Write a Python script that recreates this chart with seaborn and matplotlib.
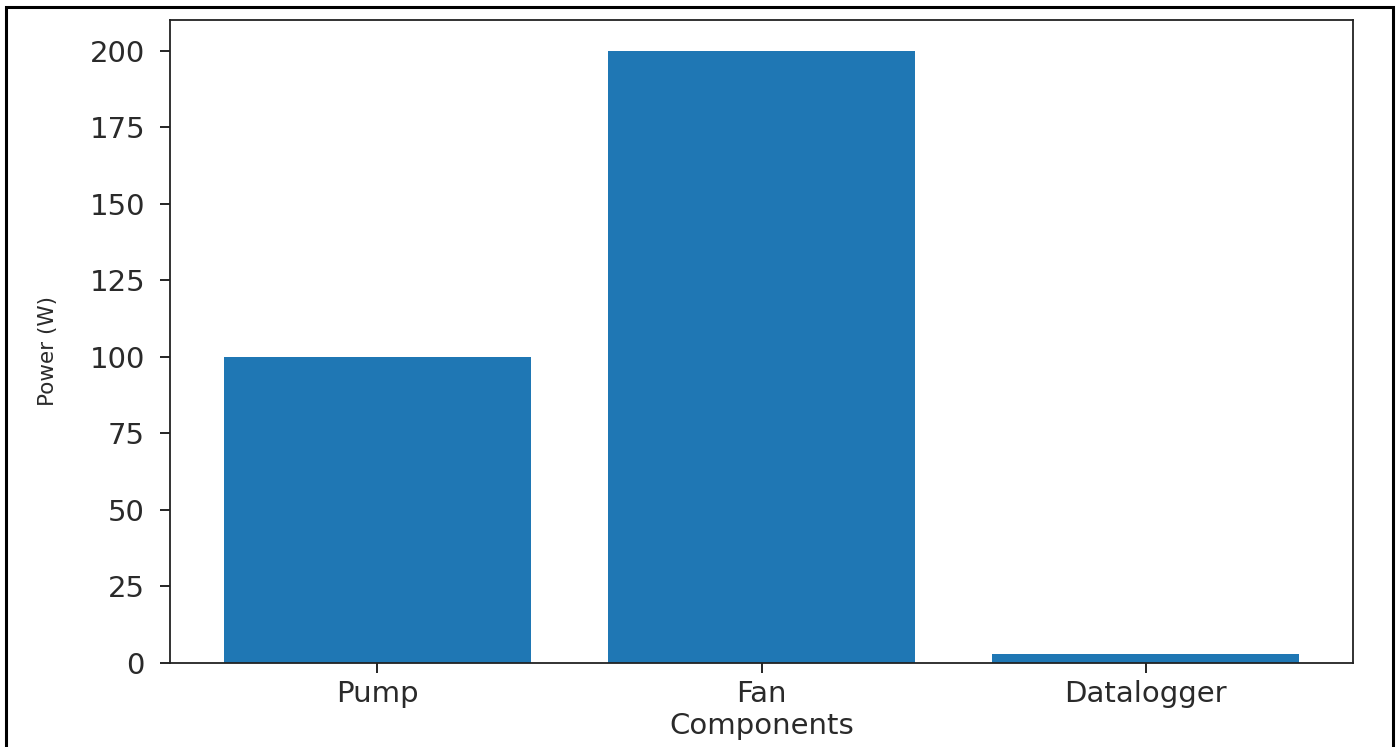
import matplotlib
matplotlib.use("Agg")
import matplotlib.pyplot as plt
import seaborn as sns
import pandas as pd
from matplotlib.patches import Rectangle

# data
components = ["Pump", "Fan", "Datalogger"]
power_w = [100, 200, 3]

df = pd.DataFrame({"Components": components, "Power (W)": power_w})

fig = plt.figure(figsize=(13.97, 7.47), dpi=100)
ax = fig.add_axes([170 / 1397, 1 - 663 / 747, (1353 - 170) / 1397, (663 - 20) / 747])

sns.barplot(data=df, x="Components", y="Power (W)", color="#1f77b4",
            saturation=1, width=0.8, ax=ax)

ax.set_xlim(-0.54, 2.54)
ax.set_ylim(0, 210)
ax.set_yticks(range(0, 201, 25))

ax.set_xlabel("Components", fontsize=21, color="#2a2a2a", labelpad=3)
ax.set_ylabel("Power (W)", fontsize=15.5, color="#2a2a2a")
ax.yaxis.set_label_coords(-0.095, 0.485)
ax.tick_params(axis="x", labelsize=21, labelcolor="#2a2a2a",
               length=7, width=1.2, pad=5)
ax.tick_params(axis="y", labelsize=21, labelcolor="#2a2a2a",
               length=7, width=1.2, pad=11)
for s in ax.spines.values():
    s.set_linewidth(1.3)
    s.set_color("#222222")

# black frame of the screenshot
fig.patches.append(Rectangle((6 / 1397, -0.05), (1393 - 6) / 1397, 1 - 7 / 747 + 0.05,
                             transform=fig.transFigure, fill=False,
                             edgecolor="black", linewidth=2.2))

fig.savefig("out.png", dpi=100)
